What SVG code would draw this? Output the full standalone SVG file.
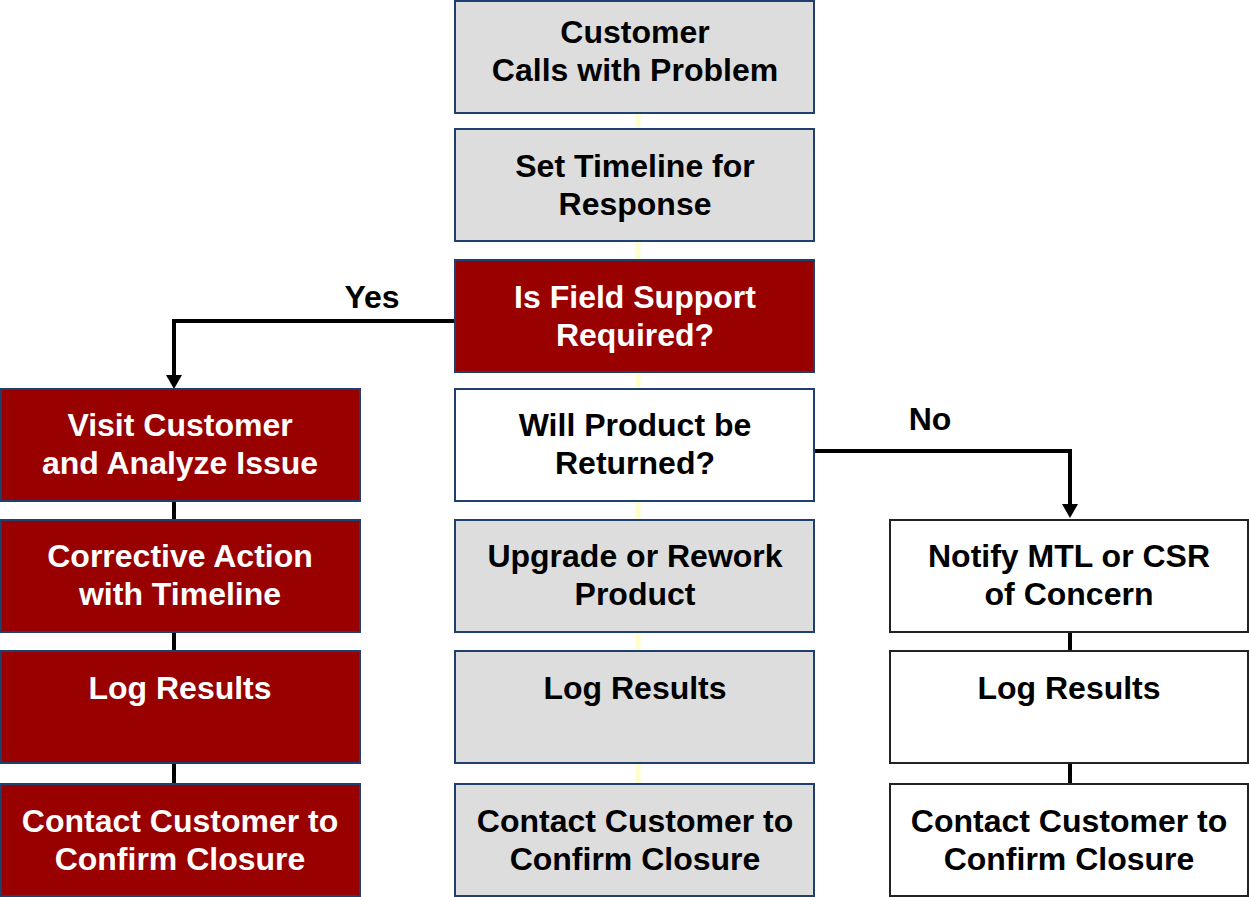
<svg xmlns="http://www.w3.org/2000/svg" width="1249" height="897" viewBox="0 0 1249 897">
<defs>
<style>
.g{fill:#DDDDDD;stroke:#1F3F6F;stroke-width:2}
.r{fill:#990000;stroke:#1F3F6F;stroke-width:2}
.w{fill:#FFFFFF;stroke:#222222;stroke-width:2}
text{font-family:"Liberation Sans",Arial,sans-serif;font-weight:bold;font-size:32px;text-anchor:middle}
.tb{fill:#000000}
.tw{fill:#FFFFFF}
.k{stroke:#000000;stroke-width:4;fill:none}
.y{stroke:#FFFFCC;stroke-width:5;fill:none}
</style>
<marker id="ah" markerWidth="16" markerHeight="14" refX="8" refY="14" orient="auto-start-reverse" markerUnits="userSpaceOnUse" viewBox="0 0 16 14">
<path d="M0,0 L16,0 L8,14 Z" fill="#000000" transform="rotate(0)"/>
</marker>
</defs>
<rect width="1249" height="897" fill="#FFFFFF"/>
<g id="connectors">
<path class="y" d="M638,113 V129 M638,241 V260 M638,372 V389 M638,501 V520 M638,632 V651 M638,763 V784"/>
<path class="k" d="M455,321 H174 V376"/>
<path d="M166,375 L182,375 L174,389 Z" fill="#000"/>
<path class="k" d="M812,451 H1070 V505"/>
<path d="M1062,504 L1078,504 L1070,518 Z" fill="#000"/>
<path class="k" d="M174,501 V520 M174,632 V651 M174,763 V784"/>
<path class="k" d="M1070,632 V651 M1070,763 V784"/>
<text class="tb" x="372" y="308">Yes</text>
<text class="tb" x="930" y="430">No</text>
</g>
<g id="n1"><rect class="g" x="455" y="1" width="359" height="112"/><text class="tb" x="635" y="43">Customer</text><text class="tb" x="635" y="81">Calls with Problem</text></g>
<g id="n2"><rect class="g" x="455" y="129" width="359" height="112"/><text class="tb" x="635" y="177">Set Timeline for</text><text class="tb" x="635" y="215">Response</text></g>
<g id="n3"><rect class="r" x="455" y="260" width="359" height="112"/><text class="tw" x="635" y="308">Is Field Support</text><text class="tw" x="635" y="346">Required?</text></g>
<g id="n4"><rect class="w" x="455" y="389" width="359" height="112" style="stroke:#1F3F6F"/><text class="tb" x="635" y="436">Will Product be</text><text class="tb" x="635" y="474">Returned?</text></g>
<g id="n5"><rect class="g" x="455" y="520" width="359" height="112"/><text class="tb" x="635" y="567">Upgrade or Rework</text><text class="tb" x="635" y="605">Product</text></g>
<g id="n6"><rect class="g" x="455" y="651" width="359" height="112"/><text class="tb" x="635" y="699">Log Results</text></g>
<g id="n7"><rect class="g" x="455" y="784" width="359" height="112"/><text class="tb" x="635" y="832">Contact Customer to</text><text class="tb" x="635" y="870">Confirm Closure</text></g>
<g id="l1"><rect class="r" x="1" y="389" width="359" height="112"/><text class="tw" x="180" y="436">Visit Customer</text><text class="tw" x="180" y="474">and Analyze Issue</text></g>
<g id="l2"><rect class="r" x="1" y="520" width="359" height="112"/><text class="tw" x="180" y="567">Corrective Action</text><text class="tw" x="180" y="605">with Timeline</text></g>
<g id="l3"><rect class="r" x="1" y="651" width="359" height="112"/><text class="tw" x="180" y="699">Log Results</text></g>
<g id="l4"><rect class="r" x="1" y="784" width="359" height="112"/><text class="tw" x="180" y="832">Contact Customer to</text><text class="tw" x="180" y="870">Confirm Closure</text></g>
<g id="r1"><rect class="w" x="890" y="520" width="358" height="112"/><text class="tb" x="1069" y="567">Notify MTL or CSR</text><text class="tb" x="1069" y="605">of Concern</text></g>
<g id="r2"><rect class="w" x="890" y="651" width="358" height="112"/><text class="tb" x="1069" y="699">Log Results</text></g>
<g id="r3"><rect class="w" x="890" y="784" width="358" height="112"/><text class="tb" x="1069" y="832">Contact Customer to</text><text class="tb" x="1069" y="870">Confirm Closure</text></g>
</svg>
